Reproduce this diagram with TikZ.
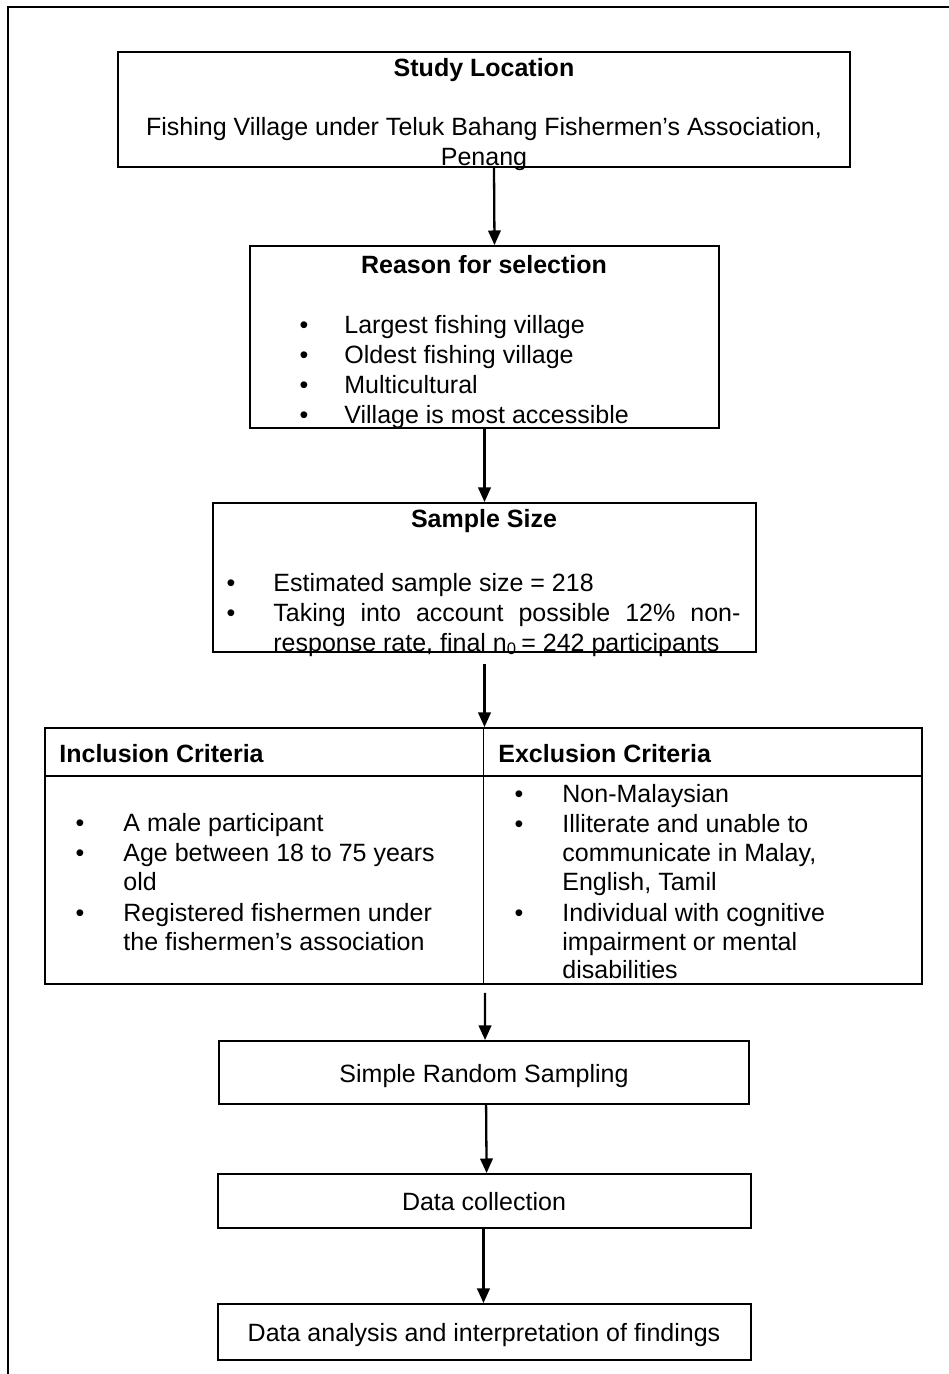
\documentclass[tikz,border=0pt]{standalone}
\usepackage{fontspec}
\setmainfont{Liberation Sans}
\usetikzlibrary{arrows.meta,fit}
\begin{document}
\begin{tikzpicture}[x=0.48pt,y=-0.48pt,
  box/.style={draw, line width=0.9pt, rectangle, inner sep=0pt},
  txt/.style={anchor=base, inner sep=0pt, font=\fontsize{12}{14.4}\selectfont},
  ltxt/.style={txt, anchor=base west},
  bold/.style={font=\fontsize{12}{14.4}\selectfont\bfseries},
  arr/.style={line width=1.1pt, -{Triangle[length=7pt,width=6pt]}},
  frame/.style={line width=1pt},
  rule/.style={line width=0.9pt}
]
\path[use as bounding box] (0,0) rectangle (949,1374);
\draw[frame] (8,1374) -- (8,7) -- (949,7);

% Study location
\node[box, fit={(118,52) (850,167)}] (loc) {};
\node[txt,bold] (locT) at (484,76) {Study Location};
\node[txt] (locA) at (484,135) {Fishing Village under Teluk Bahang Fishermen’s Association,};
\node[txt] (locB) at (484,165) {Penang};

% Reason for selection
\node[box, fit={(250,246) (719,428)}] (reason) {};
\node[txt,bold] (reasonT) at (484,273) {Reason for selection};
\node[txt] (rb1) at (304,333) {•};
\node[txt] (rb2) at (304,363) {•};
\node[txt] (rb3) at (304,393) {•};
\node[txt] (rb4) at (304,423) {•};
\node[ltxt] (r1) at (344,333) {Largest fishing village};
\node[ltxt] (r2) at (344,363) {Oldest fishing village};
\node[ltxt] (r3) at (344,393) {Multicultural};
\node[ltxt] (r4) at (344,423) {Village is most accessible};

% Sample size
\node[box, fit={(213,503) (756,652)}] (sample) {};
\node[txt,bold] (sampleT) at (484,527) {Sample Size};
\node[txt] (sb1) at (231,591) {•};
\node[txt] (sb2) at (231,621) {•};
\node[ltxt] (s1) at (273,591) {Estimated sample size = 218};
\node[ltxt] (s2) at (273,621) {\makebox[224.2pt][s]{Taking into account possible 12\% non-}};
\node[ltxt] (s3) at (273,651) {response rate, final n\textsubscript{0}\,= 242 participants};

% Criteria table
\node[box, fit={(45,728) (922,984)}] (table) {};
\draw[rule] (table.north) -- (table.south);
\draw[rule] (45,776) -- (922,776);
\node[ltxt,bold] (incT) at (59,762) {Inclusion Criteria};
\node[ltxt,bold] (excT) at (498,762) {Exclusion Criteria};
\node[txt] (ib1) at (80,831) {•};
\node[txt] (ib2) at (80,861) {•};
\node[txt] (ib3) at (80,921) {•};
\node[ltxt] (i1) at (123,831) {A male participant};
\node[ltxt] (i2) at (123,861) {Age between 18 to 75 years};
\node[ltxt] (i3) at (123,890) {old};
\node[ltxt] (i4) at (123,921) {Registered fishermen under};
\node[ltxt] (i5) at (123,950) {the fishermen’s association};
\node[txt] (eb1) at (519,802) {•};
\node[txt] (eb2) at (519,832) {•};
\node[txt] (eb3) at (519,921) {•};
\node[ltxt] (e1) at (562,802) {Non-Malaysian};
\node[ltxt] (e2) at (562,832) {Illiterate and unable to};
\node[ltxt] (e3) at (562,861) {communicate in Malay,};
\node[ltxt] (e4) at (562,890) {English, Tamil};
\node[ltxt] (e5) at (562,921) {Individual with cognitive};
\node[ltxt] (e6) at (562,950) {impairment or mental};
\node[ltxt] (e7) at (562,978) {disabilities};

% Lower steps
\node[box, fit={(219,1041) (749,1104)}] (srs) {};
\node[txt] (srsT) at (484,1082) {Simple Random Sampling};
\node[box, fit={(218,1174) (751,1228)}] (dc) {};
\node[txt] (dcT) at (484,1210) {Data collection};
\node[box, fit={(218,1304) (751,1360)}] (da) {};
\node[txt] (daT) at (484,1341) {Data analysis and interpretation of findings};

% Arrows
\draw[arr] ([xshift=4.8pt]loc.south) -- ([xshift=4.8pt]reason.north);
\draw[arr] (reason.south) -- (sample.north);
\draw[arr] (sample.south) ++(0,11) -- (sample.south |- table.north);
\draw[arr] (table.south -| srs.north) ++(1,8) -- ([xshift=0.5pt]srs.north);
\draw[arr] ([xshift=1pt]srs.south) -- ([xshift=1pt]dc.north);
\draw[arr] ([xshift=-0.5pt]dc.south) -- ([xshift=-0.5pt]da.north);
\end{tikzpicture}
\end{document}
